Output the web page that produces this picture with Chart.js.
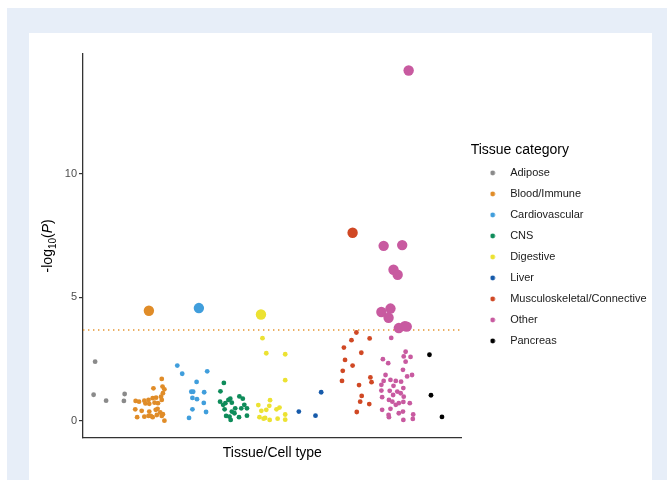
<!DOCTYPE html>
<html>
<head>
<meta charset="utf-8">
<script src="https://cdn.jsdelivr.net/npm/chart.js@4.4.1/dist/chart.umd.min.js"></script>
<style>
  html, body { margin: 0; padding: 0; background: #ffffff; width: 667px; height: 480px; overflow: hidden; }
  #frame { position: absolute; left: 7px; top: 8px; width: 660px; height: 472px; background: #e7eef8; }
  #card { position: absolute; left: 29px; top: 33px; width: 623px; height: 447px; background: #ffffff; }
  #wrap { position: absolute; left: 29px; top: 33px; width: 630px; height: 447px; }
</style>
</head>
<body>
<div id="frame"></div>
<div id="card"></div>
<div id="wrap"><canvas id="chart" width="630" height="447" style="width:630px;height:447px"></canvas></div>
<script>
// ---------------- data ----------------
const CATEGORIES = ['Adipose', 'Blood/Immune', 'Cardiovascular', 'CNS', 'Digestive', 'Liver',
  'Musculoskeletal/Connective', 'Other', 'Pancreas'];
const COLORS = ['#8a8a8a', '#e08c28', '#409edc', '#0e8c5a', '#ece232', '#165aaa', '#d04824', '#c85aa0', '#000000'];

const THRESHOLD = 3.68;          // -log10(P) significance line
const Y_TICKS = [0, 5, 10];
const Y_MIN = -0.68, Y_MAX = 14.86;
const X_MIN = 0, X_MAX = 100;    // jittered tissue position

// jittered position of each tissue along the x axis, and its -log10(P)
const adiposePos = [3.2, 2.8, 6.1, 11.0, 10.8];
const adiposeVal = [2.40, 1.06, 0.82, 1.09, 0.81];

const bloodPos = [17.4, 20.8, 18.6, 21.0, 21.5, 21.1, 20.6, 19.3, 18.4, 17.3, 16.2, 16.5, 17.5, 18.9, 19.8, 20.8,
  13.9, 14.8, 13.8, 15.5, 17.5, 19.2, 20.4, 19.7, 21.1, 14.3, 16.2, 17.3, 18.4, 19.5, 21.5, 20.8, 17.9];
const bloodVal = [4.46, 1.70, 1.32, 1.39, 1.28, 1.12, 0.98, 0.94, 0.92, 0.85, 0.82, 0.71, 0.69, 0.74, 0.72, 0.85,
  0.81, 0.78, 0.47, 0.41, 0.38, 0.45, 0.34, 0.49, 0.27, 0.15, 0.17, 0.20, 0.15, 0.24, 0.01, 0.20, 0.20];

const cardioPos = [30.6, 24.9, 26.2, 32.8, 30.0, 28.6, 29.1, 32.0, 28.9, 30.1, 31.9, 28.9, 32.5, 28.0];
const cardioVal = [4.57, 2.24, 1.91, 2.01, 1.58, 1.18, 1.18, 1.16, 0.93, 0.88, 0.73, 0.47, 0.36, 0.12];

const cnsPos = [37.2, 36.3, 38.9, 38.4, 41.3, 42.2, 36.2, 37.6, 39.3, 42.6, 43.3, 41.8, 40.2, 37.4, 39.3, 40.0,
  37.8, 38.7, 41.2, 43.3, 39.0, 37.0];
const cnsVal = [1.54, 1.20, 0.90, 0.85, 0.99, 0.90, 0.78, 0.72, 0.74, 0.65, 0.51, 0.51, 0.51, 0.47, 0.38, 0.31,
  0.20, 0.17, 0.15, 0.21, 0.04, 0.65];

const digestivePos = [47.0, 47.4, 48.4, 53.4, 53.4, 49.4, 46.3, 49.2, 51.9, 51.1, 47.1, 48.4, 53.4, 46.6, 47.7,
  48.1, 49.3, 51.4, 53.4];
const digestiveVal = [4.31, 3.35, 2.74, 2.70, 1.65, 0.84, 0.64, 0.61, 0.54, 0.47, 0.41, 0.45, 0.26, 0.15, 0.09,
  0.12, 0.04, 0.09, 0.05];

const liverPos = [62.9, 57.0, 61.4];
const liverVal = [1.16, 0.38, 0.21];

const muscPos = [71.2, 72.2, 70.9, 75.7, 68.9, 73.5, 69.2, 71.2, 68.6, 68.4, 75.9, 76.2, 72.9, 73.6, 73.2, 75.6, 72.3];
const muscVal = [7.62, 3.58, 3.27, 3.34, 2.97, 2.76, 2.47, 2.24, 2.03, 1.62, 1.76, 1.57, 1.45, 1.01, 0.78, 0.68, 0.36];

const otherPos = [86.0, 79.4, 84.3, 82.0, 83.1, 78.8, 81.2, 80.7, 83.4, 85.0, 85.5,
  81.4, 85.2, 79.2, 80.6, 86.5, 84.7, 85.2, 84.5, 86.9, 79.9, 85.6, 79.4, 81.2, 82.6, 84.0, 78.8, 82.0, 84.6,
  78.8, 81.0, 83.0, 81.9, 83.9, 84.7, 79.0, 80.8, 81.7, 83.4, 84.6, 86.3, 81.2, 79.0, 84.5, 83.4, 87.2, 80.8,
  84.6, 87.1, 80.7, 82.6];
const otherVal = [14.19, 7.09, 7.12, 6.12, 5.92, 4.41, 4.55, 4.18, 3.76, 3.84, 3.82,
  3.36, 2.80, 2.50, 2.34, 2.59, 2.61, 2.40, 2.07, 1.86, 1.86, 1.80, 1.62, 1.66, 1.62, 1.59, 1.46, 1.42, 1.33,
  1.23, 1.22, 1.19, 1.05, 1.12, 0.98, 0.96, 0.85, 0.78, 0.72, 0.77, 0.72, 0.49, 0.45, 0.38, 0.31, 0.26, 0.15,
  0.04, 0.08, 0.24, 0.65];

const pancreasPos = [91.5, 91.9, 94.8];
const pancreasVal = [2.68, 1.04, 0.16];

const POSITIONS = [adiposePos, bloodPos, cardioPos, cnsPos, digestivePos, liverPos, muscPos, otherPos, pancreasPos];
const VALUES = [adiposeVal, bloodVal, cardioVal, cnsVal, digestiveVal, liverVal, muscVal, otherVal, pancreasVal];

// ---------------- chart ----------------
Chart.defaults.font.family = "'Liberation Sans', Arial, sans-serif";
Chart.defaults.color = '#1a1a1a';

function dotImage(color) {
  const c = document.createElement('canvas');
  c.width = 6; c.height = 6;
  const g = c.getContext('2d');
  g.fillStyle = color;
  g.beginPath(); g.arc(3, 3, 2.4, 0, Math.PI * 2); g.fill();
  return c;
}
const dotImages = COLORS.map(dotImage);

const datasets = CATEGORIES.map((name, i) => ({
  label: name,
  data: POSITIONS[i].map((x, j) => ({ x: x, y: VALUES[i][j] })),
  backgroundColor: COLORS[i],
  borderColor: COLORS[i],
  pointBorderWidth: 0,
  pointRadius: ctx => (ctx.raw && ctx.raw.y > THRESHOLD) ? 5.2 : 2.4,
  xAxisID: 'x', yAxisID: 'y',
  order: 1
}));
datasets.push({
  label: 'threshold',
  data: [{ x: X_MIN, y: THRESHOLD }, { x: X_MAX, y: THRESHOLD }],
  showLine: true,
  borderColor: '#e5952f',
  borderWidth: 1.4,
  borderDash: [1.4, 3.6],
  pointRadius: 0,
  xAxisID: 'x', yAxisID: 'y',
  order: 5
});

const yTitlePlugin = {
  id: 'yTitle',
  afterDraw(chart) {
    const { ctx, chartArea } = chart;
    const cy = (chartArea.top + chartArea.bottom) / 2;
    const cx = 18;
    const fam = "'Liberation Sans', Arial, sans-serif";
    const parts = [
      { t: '-log', f: '14px ' + fam, dy: 0 },
      { t: '10', f: '10px ' + fam, dy: 3.5 },
      { t: '(', f: '14px ' + fam, dy: 0 },
      { t: 'P', f: 'italic 14px ' + fam, dy: 0 },
      { t: ')', f: '14px ' + fam, dy: 0 }
    ];
    ctx.save();
    ctx.translate(cx, cy);
    ctx.rotate(-Math.PI / 2);
    ctx.fillStyle = '#000000';
    ctx.textBaseline = 'alphabetic';
    ctx.textAlign = 'left';
    let total = 0;
    parts.forEach(p => { ctx.font = p.f; p.w = ctx.measureText(p.t).width; total += p.w; });
    let x = -total / 2;
    parts.forEach(p => { ctx.font = p.f; ctx.fillText(p.t, x, 5 + p.dy); x += p.w; });
    ctx.restore();
  }
};

new Chart(document.getElementById('chart'), {
  type: 'scatter',
  data: { datasets: datasets },
  plugins: [yTitlePlugin],
  options: {
    responsive: false,
    animation: false,
    events: [],
    layout: { padding: { left: 0, top: 21, right: 2.5, bottom: 0 } },
    scales: {
      x: {
        type: 'linear', position: 'bottom', min: X_MIN, max: X_MAX,
        grid: { display: false },
        ticks: { display: false },
        border: { display: true, color: '#333333', width: 1.3 },
        title: { display: true, text: 'Tissue/Cell type', color: '#000000', font: { size: 14 }, padding: { top: 0, bottom: 18.6 } },
        afterFit: s => { s.height = 42.3; }
      },
      y: {
        type: 'linear', position: 'left', min: Y_MIN, max: Y_MAX,
        afterBuildTicks: s => { s.ticks = Y_TICKS.map(v => ({ value: v })); },
        grid: { display: true, drawOnChartArea: false, drawTicks: true, tickLength: 4, color: '#333333', lineWidth: 1.2 },
        border: { display: true, color: '#333333', width: 1.3 },
        ticks: { color: '#4d4d4d', font: { size: 11 }, padding: 2 },
        afterFit: s => { s.width = 54; }
      },
      gap: {
        type: 'linear', position: 'right', display: true,
        grid: { display: false }, border: { display: false }, ticks: { display: false },
        afterFit: s => { s.width = 9; }
      }
    },
    plugins: {
      tooltip: { enabled: false },
      legend: {
        display: true, position: 'right', align: 'start', maxWidth: 260,
        title: { display: true, text: 'Tissue category', position: 'start', color: '#000000',
          font: { size: 14, lineHeight: 1 }, padding: { top: 89, bottom: 0.5 } },
        labels: {
          usePointStyle: true, pointStyleWidth: 24, boxHeight: 11, padding: 10,
          color: '#1a1a1a', font: { size: 11 },
          generateLabels: () => CATEGORIES.map((name, i) => ({
            text: name, fillStyle: COLORS[i], strokeStyle: COLORS[i], lineWidth: 0,
            pointStyle: dotImages[i], hidden: false, datasetIndex: i, fontColor: '#1a1a1a'
          }))
        }
      }
    }
  }
});
</script>
</body>
</html>
